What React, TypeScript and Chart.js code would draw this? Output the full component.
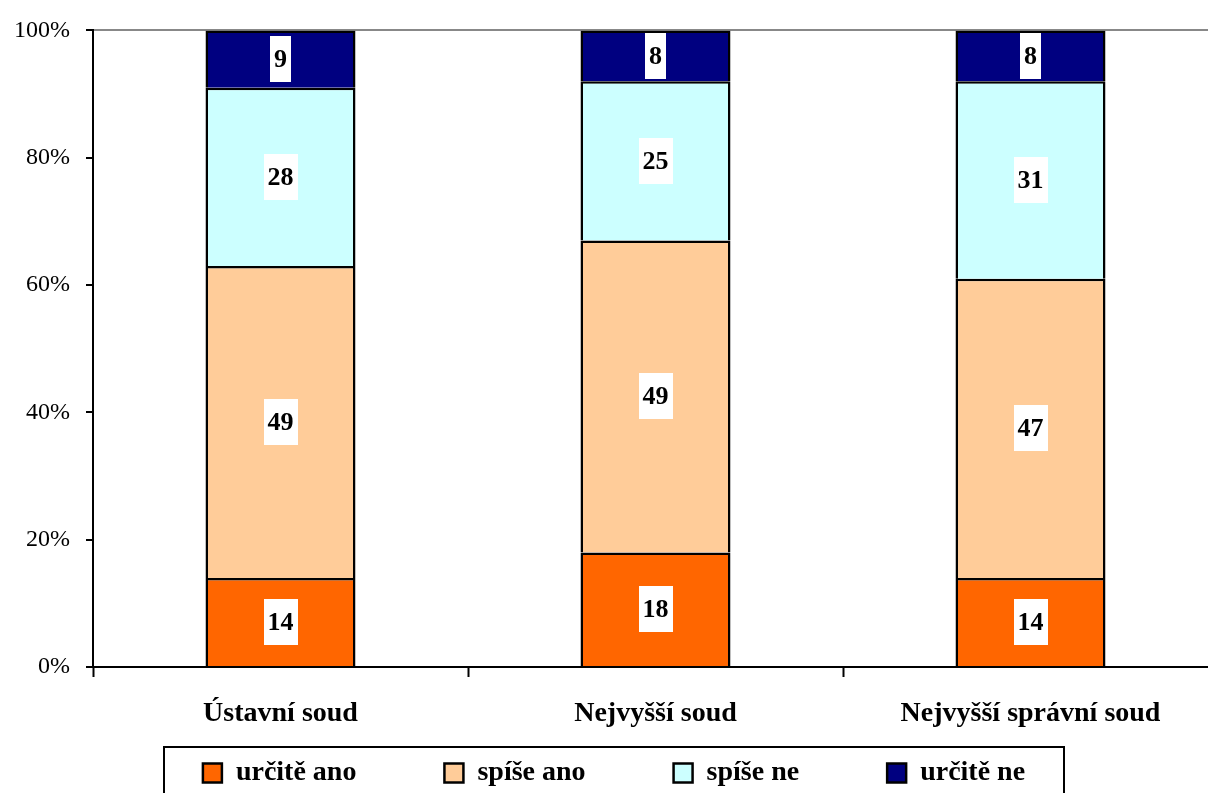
import React, { useEffect, useRef } from "react";
import { Chart, registerables } from "chart.js";

Chart.register(...registerables);

const categories = ["Ústavní soud", "Nejvyšší soud", "Nejvyšší správní soud"];
const seriesNames = ["určitě ano", "spíše ano", "spíše ne", "určitě ne"];
const urciteAno = [14, 18, 14];
const spiseAno = [49, 49, 47];
const spiseNe = [28, 25, 31];
const urciteNe = [9, 8, 8];
const seriesColors = ["#FF6600", "#FFCC99", "#CCFFFF", "#000080"];
const yTicks = [0, 20, 40, 60, 80, 100];

const FONT = '"Liberation Serif", "Times New Roman", serif';
const LEGEND_PAD = 88;
const LEGEND_FONT = 28;
const LEGEND_TEXT_Y = 773;

const labelPlugin = {
  id: "valueLabels",
  afterDatasetsDraw(chart: any) {
    const ctx = chart.ctx;
    ctx.save();
    ctx.font = `bold 26px ${FONT}`;
    ctx.textAlign = "center";
    ctx.textBaseline = "middle";
    chart.data.datasets.forEach((ds: any, i: number) => {
      const meta = chart.getDatasetMeta(i);
      meta.data.forEach((el: any, j: number) => {
        const p = el.getProps(["x", "y", "base"], true);
        const cy = (p.y + p.base) / 2;
        const text = String(ds.data[j]);
        const w = ctx.measureText(text).width + 8;
        const h = 46;
        ctx.fillStyle = "#FFFFFF";
        ctx.fillRect(Math.round(p.x - w / 2), Math.round(cy - h / 2), Math.round(w), h);
        ctx.fillStyle = "#000000";
        ctx.fillText(text, p.x, cy + 1);
      });
    });
    ctx.restore();
  },
};

const legendPlacePlugin = {
  id: "legendPlace",
  afterLayout(chart: any) {
    const lg = chart.legend;
    if (!lg) return;
    const desiredTop = LEGEND_TEXT_Y - LEGEND_FONT / 2 - LEGEND_PAD;
    const dy = desiredTop - lg.top;
    lg.top += dy;
    lg.bottom += dy;
    if (lg.legendHitBoxes) lg.legendHitBoxes.forEach((b: any) => (b.top += dy));
  },
  afterDraw(chart: any) {
    const lg = chart.legend;
    if (!lg) return;
    const ctx = chart.ctx;
    const cx = (lg.left + lg.right) / 2;
    ctx.save();
    ctx.strokeStyle = "#000000";
    ctx.lineWidth = 2;
    ctx.strokeRect(cx - 450, LEGEND_TEXT_Y - 26, 900, 60);
    ctx.restore();
  },
};

export default function App() {
  const ref = useRef<HTMLCanvasElement>(null);
  useEffect(() => {
    if (!ref.current) return;
    const seriesData = [urciteAno, spiseAno, spiseNe, urciteNe];
    const chart = new Chart(ref.current, {
      type: "bar",
      data: {
        labels: categories,
        datasets: seriesNames.map((name, i) => ({
          label: name,
          data: seriesData[i],
          backgroundColor: seriesColors[i],
          borderColor: "#000000",
          borderWidth: 2.5,
          borderSkipped: "bottom",
          barPercentage: 0.4,
          categoryPercentage: 1.0,
        })),
      },
      options: {
        responsive: false,
        animation: false,
        devicePixelRatio: 1,
        layout: { padding: { left: 10, right: 10, top: 24, bottom: 0 } },
        plugins: {
          tooltip: { enabled: false },
          legend: {
            position: "bottom",
            labels: {
              font: { family: FONT, size: LEGEND_FONT, weight: "bold" },
              color: "#000000",
              boxWidth: 19,
              boxHeight: 19,
              padding: LEGEND_PAD,
            },
          },
        },
        scales: {
          x: {
            stacked: true,
            afterFit: (s: any) => {
              s.height = 70;
            },
            grid: {
              display: true,
              offset: true,
              drawOnChartArea: false,
              tickLength: 10,
              tickColor: "#000000",
              tickWidth: 2,
            },
            border: { display: true, color: "#000000", width: 2 },
            ticks: {
              font: { family: FONT, size: 28, weight: "bold" },
              color: "#000000",
              padding: 20,
              maxRotation: 0,
              autoSkip: false,
            },
          },
          y: {
            stacked: true,
            min: 0,
            max: 100,
            afterFit: (s: any) => {
              s.width = 83;
            },
            afterBuildTicks: (s: any) => {
              s.ticks = yTicks.map((v) => ({ value: v }));
            },
            grid: {
              display: true,
              drawOnChartArea: true,
              color: (c: any) => (c.tick && c.tick.value === 100 ? "#888888" : "rgba(0,0,0,0)"),
              lineWidth: 2,
              tickLength: 7,
              tickColor: "#000000",
              tickWidth: 2,
            },
            border: { display: true, color: "#000000", width: 2 },
            ticks: {
              font: { family: FONT, size: 24 },
              color: "#000000",
              padding: 16,
              callback: (v: any) => `${v}%`,
            },
          },
        },
      },
      plugins: [labelPlugin, legendPlacePlugin],
    });
    return () => chart.destroy();
  }, []);

  return (
    <div
      style={{
        position: "fixed",
        left: 0,
        top: 0,
        width: 1208,
        height: 793,
        overflow: "hidden",
        background: "#FFFFFF",
      }}
    >
      <canvas ref={ref} width={1228} height={863} style={{ width: 1228, height: 863, display: "block" }} />
    </div>
  );
}
